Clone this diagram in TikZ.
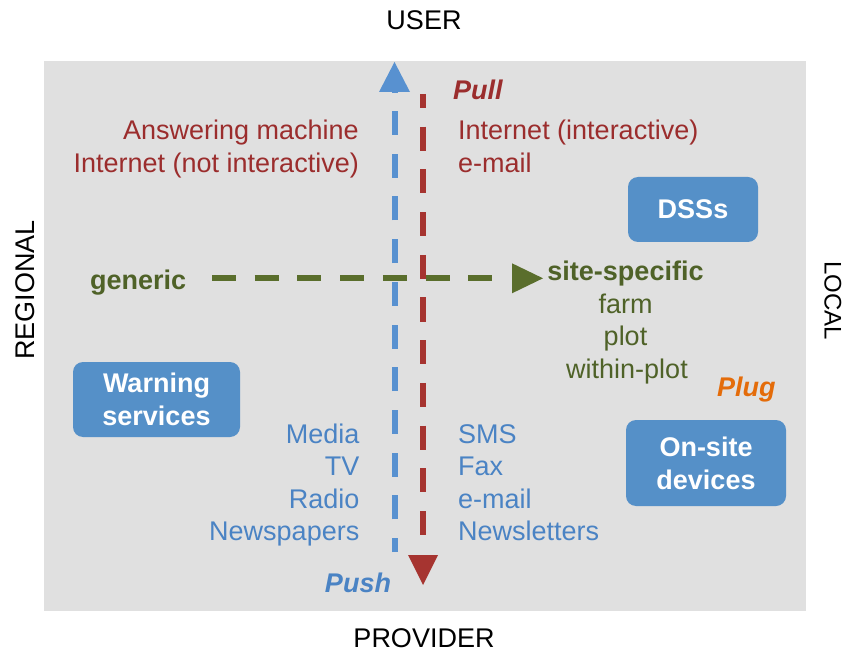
\documentclass[tikz,border=0pt]{standalone}
\usepackage{fontspec}
\setmainfont{Liberation Sans}
\definecolor{bggrey}{RGB}{224,224,224}
\definecolor{axisblue}{RGB}{88,145,208}
\definecolor{axisred}{RGB}{166,52,48}
\definecolor{axisgreen}{RGB}{90,110,44}
\definecolor{txtred}{RGB}{155,45,45}
\definecolor{txtblue}{RGB}{74,131,196}
\definecolor{txtgreen}{RGB}{79,98,40}
\definecolor{boxblue}{RGB}{85,144,200}
\definecolor{plugorange}{RGB}{228,108,10}
\begin{document}
\begin{tikzpicture}[x=1pt,y=-1pt,
  big/.style={font=\fontsize{27}{32}\selectfont, inner sep=0pt},
  lbl/.style={big, anchor=base},
  lblR/.style={big, anchor=base east},
  lblL/.style={big, anchor=base west},
  bolditalic/.style={font=\fontsize{27}{32}\selectfont\bfseries\itshape},
  boldtxt/.style={font=\fontsize{27}{32}\selectfont\bfseries},
  boxnode/.style={fill=boxblue, rounded corners=10pt, text=white, inner sep=0pt,
    font=\fontsize{27}{33}\selectfont\bfseries, align=center},
  axis/.style={line width=6pt, dash pattern=on 24pt off 18.7pt}
]
\useasboundingbox (0,0) rectangle (843,652);
% grey panel
\fill[bggrey] (44,61) rectangle (806,611);

% outer axis labels
\node[lbl] (user) at (424,30) {USER};
\node[lbl] (provider) at (424,647) {PROVIDER};
\node[big, rotate=90] (regional) at (25,290) {REGIONAL};
\node[big, font=\fontsize{24}{28}\selectfont, rotate=-90] (local) at (833,301) {LOCAL};

% vertical blue axis (push, pointing up)
\coordinate (blueS) at (394.5,552);
\coordinate (blueE) at (394.5,92);
\draw[axis, axisblue, dash phase=10pt] (blueS) -- (blueE);
\fill[axisblue] (blueE) ++(-15.5,0) -- ++(15.5,-30) -- ++(15.5,30) -- cycle;

% vertical red axis (pull, pointing down)
\coordinate (redS) at (423,94);
\coordinate (redE) at (423,537);
\coordinate (redTip) at (423,555);
\draw[axis, axisred, dash phase=10pt] (redS) -- (redE);
\fill[axisred] (redTip) ++(-15,0) -- ++(15,30) -- ++(15,-30) -- cycle;

% horizontal green axis
\coordinate (greenS) at (212,278.3);
\coordinate (greenE) at (494,278.3);
\coordinate (greenTip) at (512,278.3);
\draw[axis, axisgreen] (greenS) -- (greenE);
\fill[axisgreen] (greenTip) ++(0,-15) -- ++(31,15) -- ++(-31,15) -- cycle;

% pull side
\node[lblL, bolditalic, text=txtred] (pull) at (453,99.5) {Pull};
\node[lblR, text=txtred] (ans) at (359,139.5) {Answering machine};
\node[lblR, text=txtred] (inetn) at (359,172.3) {Internet (not interactive)};
\node[lblL, text=txtred] (ineti) at (458,139.5) {Internet (interactive)};
\node[lblL, text=txtred] (email1) at (458,172.3) {e-mail};

% scale labels
\node[lblL, boldtxt, text=txtgreen] (generic) at (90,290) {generic};
\node[lbl, boldtxt, text=txtgreen] (site) at (625.5,280.5) {site-specific};
\node[lbl, text=txtgreen] (farm) at (625.5,313.2) {farm};
\node[lbl, text=txtgreen] (plot) at (625.5,345.9) {plot};
\node[lbl, text=txtgreen] (within) at (627,378.6) {within-plot};
\node[lblL, bolditalic, text=plugorange] (plug) at (717,396.5) {Plug};

% push side
\node[lblR, text=txtblue] (media) at (359.5,443.3) {Media};
\node[lblR, text=txtblue] (tv) at (359.5,475.8) {TV};
\node[lblR, text=txtblue] (radio) at (359.5,508.3) {Radio};
\node[lblR, text=txtblue] (news) at (359.5,540.8) {Newspapers};
\node[lblL, text=txtblue] (sms) at (458,443.3) {SMS};
\node[lblL, text=txtblue] (fax) at (458,475.8) {Fax};
\node[lblL, text=txtblue] (email2) at (458,508.3) {e-mail};
\node[lblL, text=txtblue] (letters) at (458,540.8) {Newsletters};
\node[lbl, bolditalic, text=txtblue] (push) at (358,592) {Push};

% system boxes
\node[boxnode, minimum width=130pt, minimum height=65pt] (dss) at (693,209.5) {DSSs};
\node[boxnode, minimum width=167pt, minimum height=75pt] (warn) at (156.5,399.5) {Warning\\services};
\node[boxnode, minimum width=160pt, minimum height=86pt] (onsite) at (706,463) {On-site\\devices};
\end{tikzpicture}
\end{document}
